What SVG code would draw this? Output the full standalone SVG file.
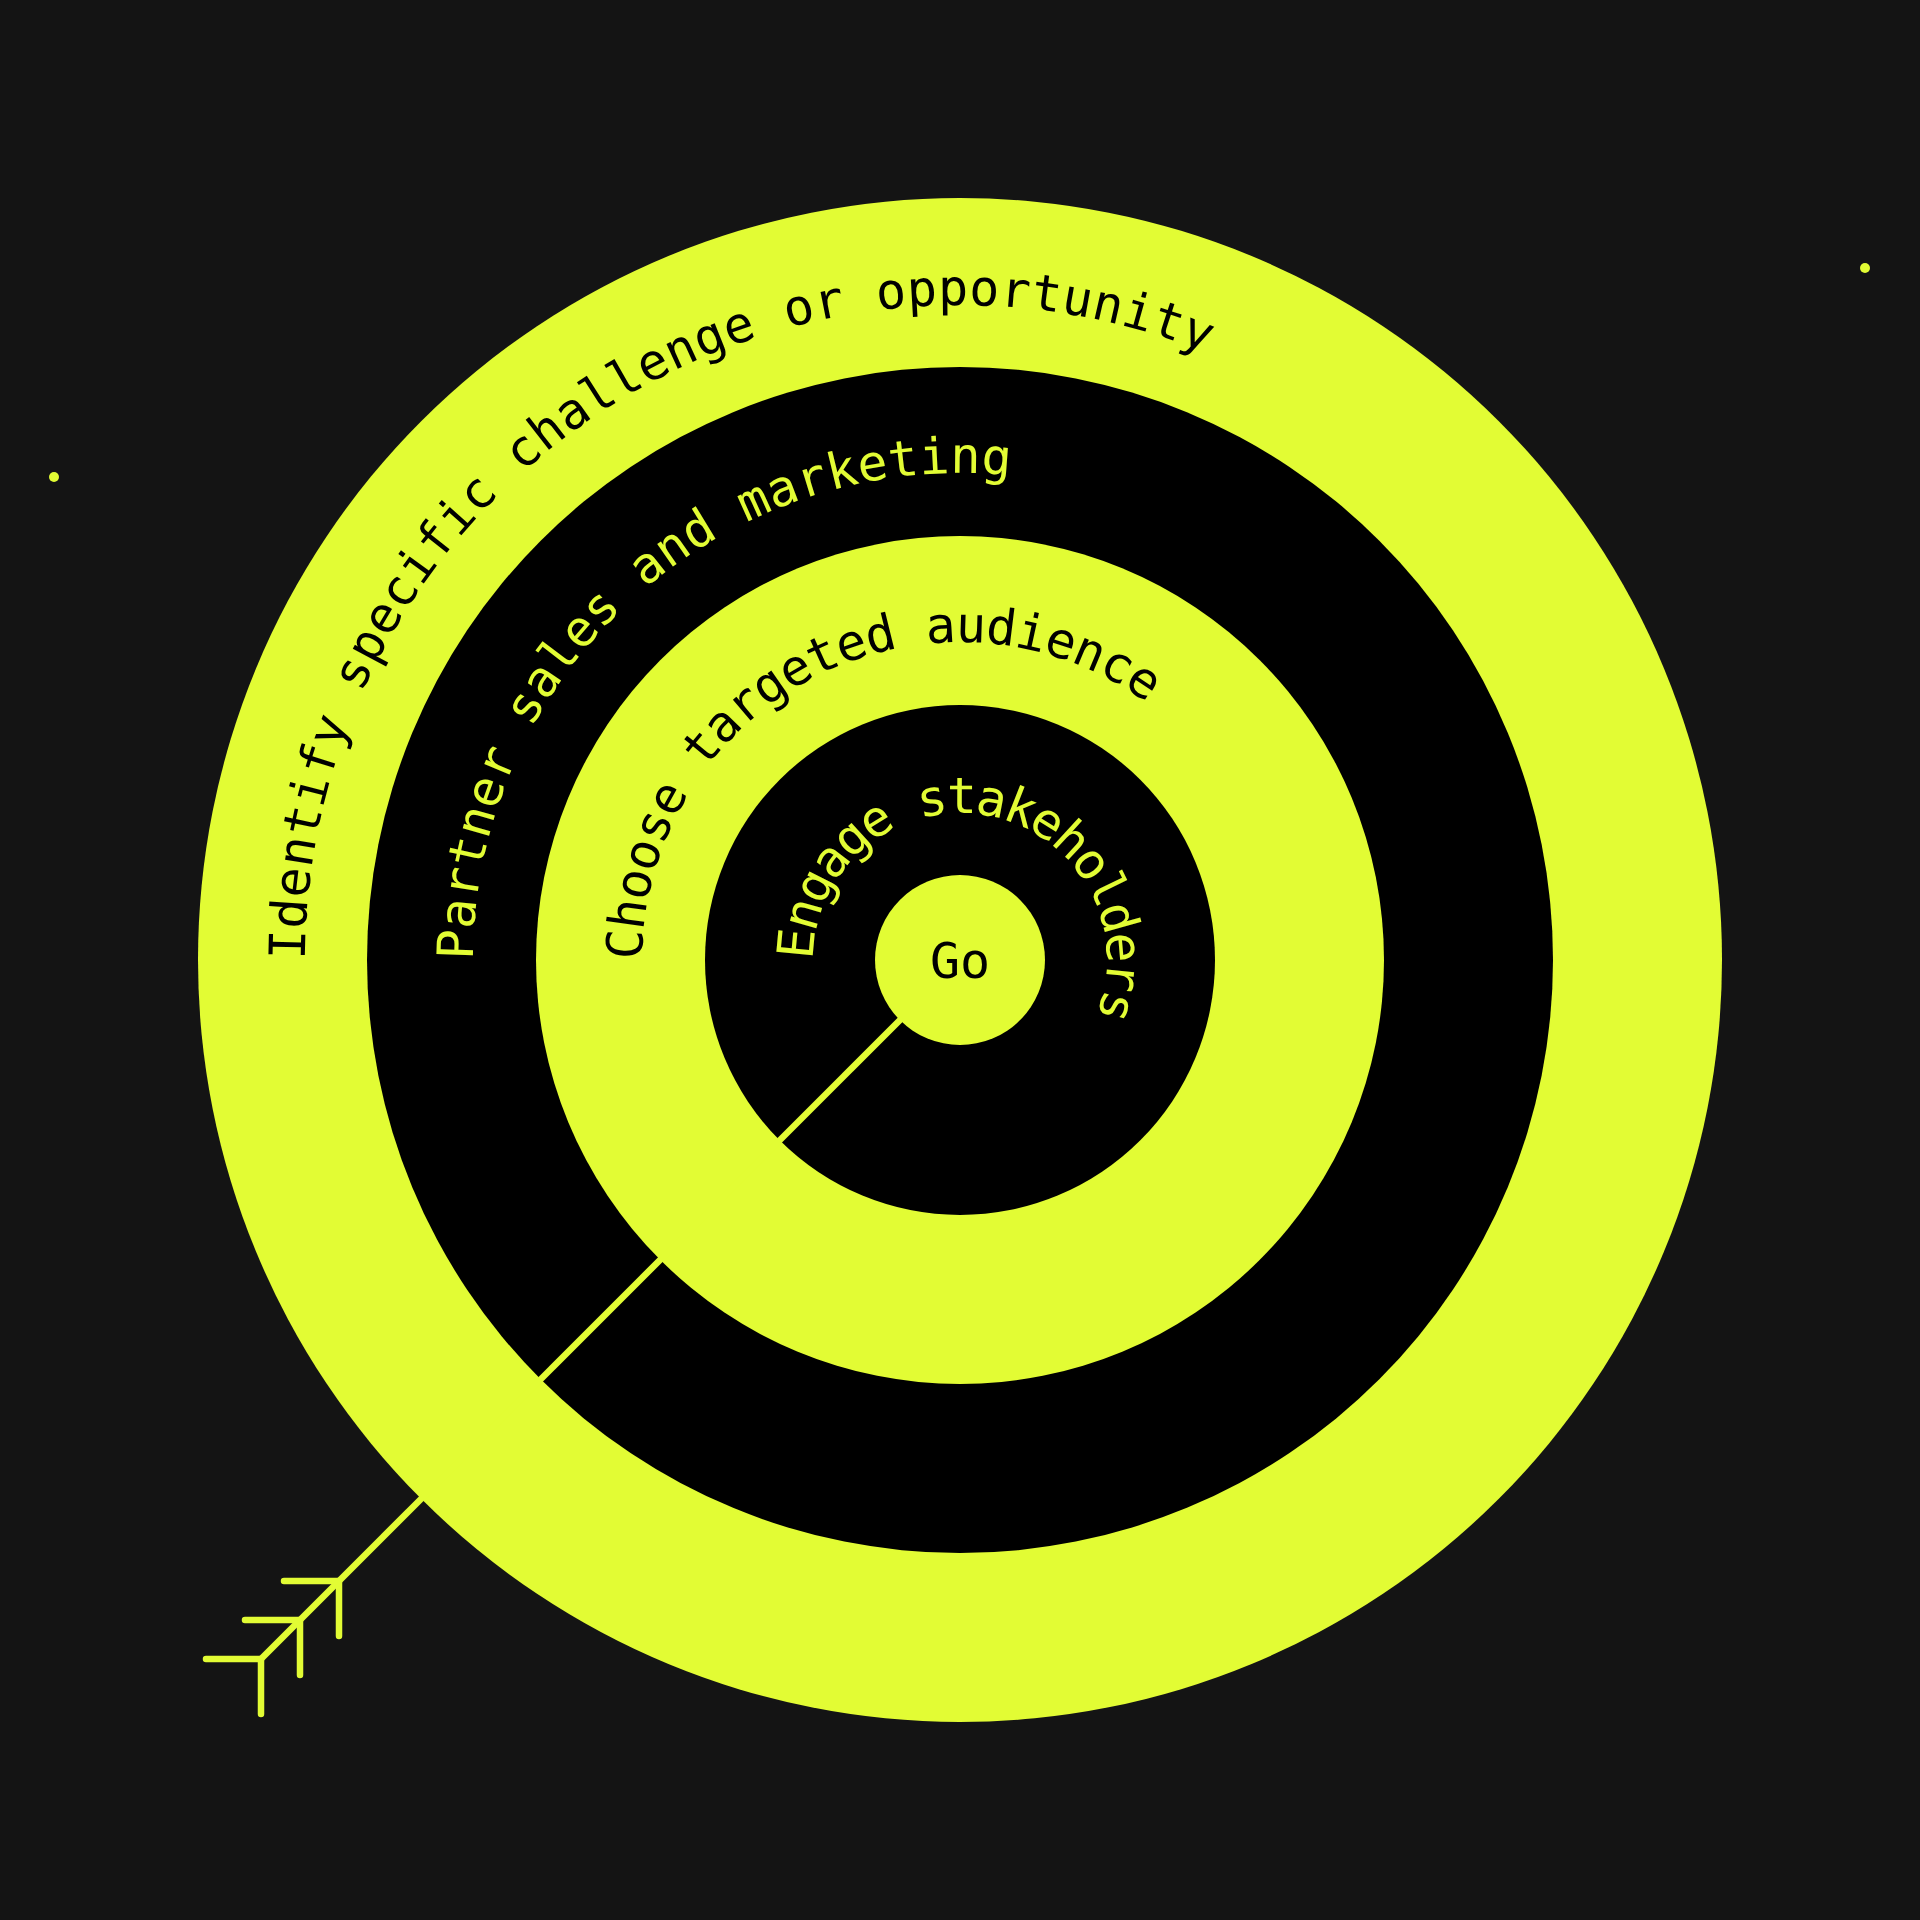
<svg xmlns="http://www.w3.org/2000/svg" width="1920" height="1920" viewBox="0 0 1920 1920">
  <style>
    .y { fill: #E2FC34; }
    .k { fill: #000000; }
    .lbl { font-family: "DejaVu Sans Mono", "Liberation Mono", monospace; font-size: 50px; }
    .dark { fill: #000000; }
    .lite { fill: #E2FC34; }
    .arrow { stroke: #E2FC34; stroke-width: 6.5; stroke-linecap: round; fill: none; }
  </style>
  <defs>
    <path id="p1" d="M 305 960 A 655 655 0 1 1 1615 960 A 655 655 0 1 1 305 960"/>
    <path id="p2" d="M 473 960 A 487 487 0 1 1 1447 960 A 487 487 0 1 1 473 960"/>
    <path id="p3" d="M 642 960 A 318 318 0 1 1 1278 960 A 318 318 0 1 1 642 960"/>
    <path id="p4" d="M 813 960 A 147 147 0 1 1 1107 960 A 147 147 0 1 1 813 960"/>
  </defs>
  <rect width="1920" height="1920" fill="#141414"/>
  <circle cx="54" cy="477" r="5" class="y"/>
  <circle cx="1865" cy="268" r="5" class="y"/>

  <g id="ring1">
    <circle cx="960" cy="960" r="762" class="y"/>
    <text class="lbl dark" letter-spacing="0.4"><textPath href="#p1">Identify specific challenge or opportunity</textPath></text>
  </g>
  <g id="ring2">
    <circle cx="960" cy="960" r="593" class="k"/>
    <text class="lbl lite" letter-spacing="0.1"><textPath href="#p2">Partner sales and marketing</textPath></text>
  </g>
  <g id="ring3">
    <circle cx="960" cy="960" r="424" class="y"/>
    <text class="lbl dark" letter-spacing="-1"><textPath href="#p3">Choose targeted audience</textPath></text>
  </g>
  <g id="ring4">
    <circle cx="960" cy="960" r="255" class="k"/>
    <text class="lbl lite" letter-spacing="-2.9"><textPath href="#p4">Engage stakeholders</textPath></text>
  </g>
  <g id="go">
    <circle cx="960" cy="960" r="85" class="y"/>
    <text x="960" y="978" class="lbl dark" text-anchor="middle">Go</text>
  </g>

  <g id="connectors">
    <line x1="900" y1="1020" x2="261" y2="1659" class="arrow"/>
    <path class="arrow" d="M 339 1581 H 284 M 339 1581 V 1636 M 300 1620 H 245 M 300 1620 V 1675 M 261 1659 H 206 M 261 1659 V 1714"/>
  </g>
</svg>
